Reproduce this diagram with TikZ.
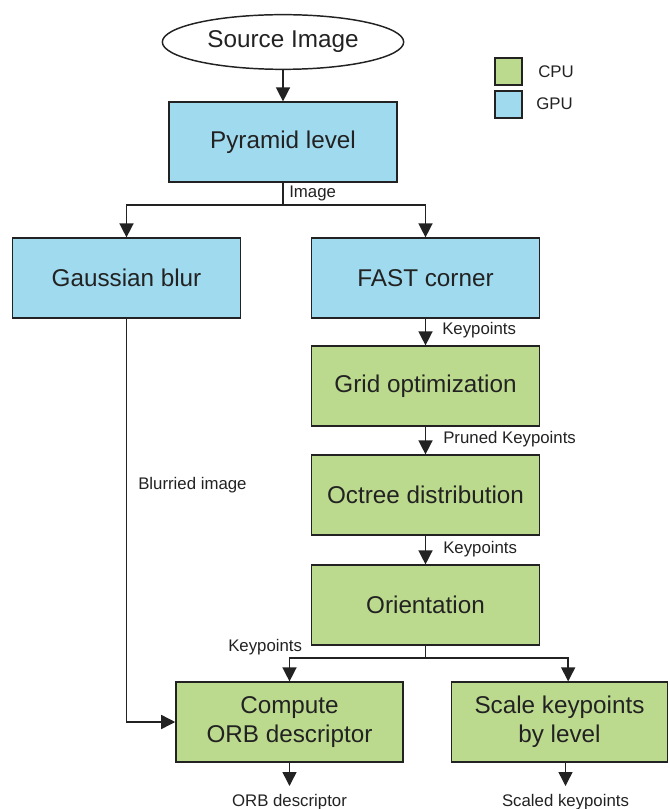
\documentclass[tikz,border=0pt]{standalone}
\usepackage{fontspec}
\setmainfont{Liberation Sans}
\usetikzlibrary{arrows.meta,shapes.geometric}
\definecolor{gpublue}{HTML}{A0DAEE}
\definecolor{cpugreen}{HTML}{BCDA8E}
\definecolor{ink}{HTML}{222222}
\begin{document}
\begin{tikzpicture}[x=0.75pt,y=-0.75pt,
  every node/.style={text=ink},
  box/.style={draw=ink,line width=1.4pt,minimum width=171pt,minimum height=59.5pt,
    align=center,font=\fontsize{18.2}{22}\selectfont,inner sep=2pt},
  gpu/.style={box,fill=gpublue},
  cpu/.style={box,fill=cpugreen},
  lbl/.style={font=\fontsize{12.6}{15}\selectfont,inner sep=0pt},
  leg/.style={draw=ink,line width=1.2pt,minimum width=20pt,minimum height=20pt,inner sep=0pt},
  arr/.style={draw=ink,line width=1.1pt,-{Triangle[width=10.5pt,length=10.5pt]}},
  ln/.style={draw=ink,line width=1.1pt}]
\useasboundingbox (0,0) rectangle (669,809);
% nodes
\node[ellipse,draw=ink,line width=1.1pt,minimum width=181pt,minimum height=41pt,
  font=\fontsize{18.2}{22}\selectfont,inner sep=0pt] (src) at (283,42) {Source Image};
\node[gpu] (pyr) at (283,142) {Pyramid level};
\node[gpu] (gauss) at (126.5,278) {Gaussian blur};
\node[gpu] (fast) at (425.5,278) {FAST corner};
\node[cpu] (grid) at (425.5,386) {Grid optimization};
\node[cpu] (oct) at (425.5,495) {Octree distribution};
\node[cpu] (ori) at (425.5,605) {Orientation};
\node[cpu,minimum width=170pt] (orb) at (289.5,722) {Compute\\ORB descriptor};
\node[cpu,minimum width=162pt] (scale) at (559.5,722) {Scale keypoints\\by level};
% legend
\node[leg,fill=cpugreen] (legc) at (508.5,71.5) {};
\node[leg,fill=gpublue] (legg) at (508.5,104.5) {};
\node[lbl,anchor=west] (legct) at (538,72) {CPU};
\node[lbl,anchor=west] (leggt) at (536,104) {GPU};
% junctions
\coordinate (j1) at (283,205);
\coordinate (j2) at (425.5,658);
% outputs
\node[lbl,anchor=north] (orbout) at (289.5,794) {ORB descriptor};
\node[lbl,anchor=north] (scaleout) at (565.5,794) {Scaled keypoints};
% connectors
\draw[arr] (src) -- (pyr);
\draw[ln] (pyr) -- (j1);
\draw[arr] (j1) -| (gauss);
\draw[arr] (j1) -| (fast);
\draw[arr] (fast) -- (grid);
\draw[arr] (grid) -- (oct);
\draw[arr] (oct) -- (ori);
\draw[ln] (ori) -- (j2);
\draw[arr] (j2) -| (orb);
\draw[arr] (j2) -| ([xshift=6.5pt]scale.north);
\draw[arr] (gauss) |- (orb.west);
\draw[arr,shorten >=6pt] (orb) -- (orbout);
\draw[arr,shorten >=6pt] ([xshift=4.5pt]scale.south) -- (scaleout);
% labels
\node[lbl,anchor=west] (limg) at (289,193) {Image};
\node[lbl,anchor=west] (lkp1) at (442,330) {Keypoints};
\node[lbl,anchor=west] (lpk) at (443,439) {Pruned Keypoints};
\node[lbl,anchor=west] (lkp2) at (443,549) {Keypoints};
\node[lbl,anchor=west] (lkp3) at (228,647) {Keypoints};
\node[lbl,anchor=west] (lblur) at (138,485) {Blurried image};
\end{tikzpicture}
\end{document}
